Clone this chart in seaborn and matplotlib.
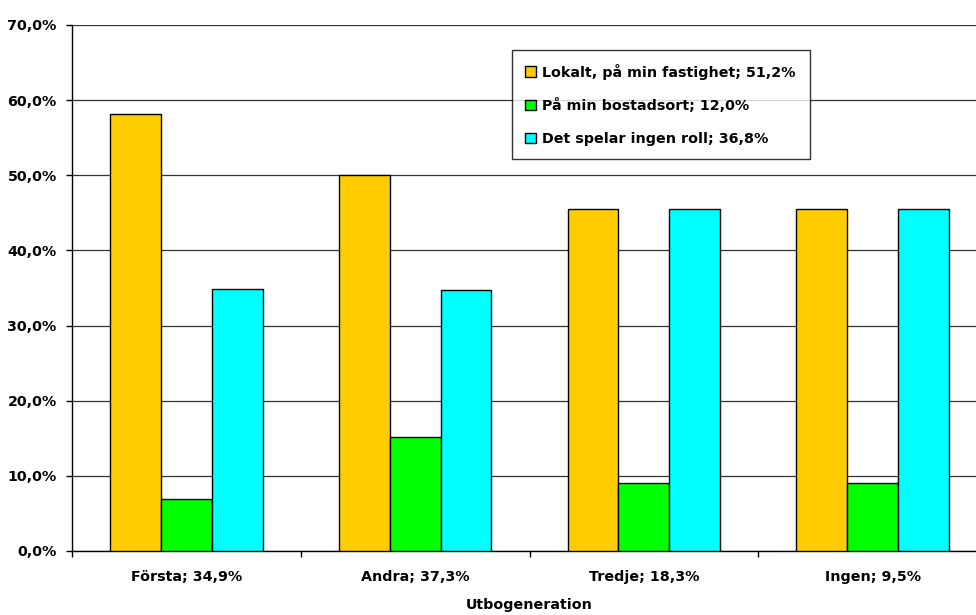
import pandas as pd
import seaborn as sns
import matplotlib.pyplot as plt
from matplotlib.ticker import FuncFormatter, FixedLocator

# data (percent)
generations = ['Första; 34,9%', 'Andra; 37,3%', 'Tredje; 18,3%', 'Ingen; 9,5%']
answers = ['Lokalt, på min fastighet; 51,2%', 'På min bostadsort; 12,0%', 'Det spelar ingen roll; 36,8%']
lokalt = [58.2, 50.0, 45.5, 45.5]
bostadsort = [6.9, 15.2, 9.1, 9.1]
ingen_roll = [34.9, 34.7, 45.5, 45.5]
colors = ['#FFCC00', '#00FF00', '#00FFFF']

rows = []
for ans, vals in zip(answers, [lokalt, bostadsort, ingen_roll]):
    for g, v in zip(generations, vals):
        rows.append({'Utbogeneration': g, 'svar': ans, 'andel': v})
df = pd.DataFrame(rows)

sns.set_style('white')
plt.rcParams['font.family'] = ['DejaVu Sans']
plt.rcParams['font.weight'] = 'bold'
plt.rcParams['text.color'] = 'black'
plt.rcParams['xtick.color'] = 'black'
plt.rcParams['ytick.color'] = 'black'
plt.rcParams['axes.labelcolor'] = 'black'

fig = plt.figure(figsize=(9.76, 6.15), dpi=100)
ax = fig.add_axes([72 / 976, 1 - 551 / 615, 915 / 976, 526 / 615])

sns.barplot(data=df, x='Utbogeneration', y='andel', hue='svar', hue_order=answers,
            palette=colors, width=0.667, edgecolor='black', linewidth=1,
            saturation=1, ax=ax, legend=False, zorder=3)

ax.set_xlim(-0.5, 3.5)
ax.set_ylim(0, 70)
ax.set_yticks(range(0, 71, 10))
ax.yaxis.set_major_formatter(FuncFormatter(lambda v, p: f'{v:.1f}%'.replace('.', ',')))
ax.grid(axis='y', color='#333333', linewidth=0.9, zorder=0)
ax.set_axisbelow(True)

for s in ['top', 'right']:
    ax.spines[s].set_visible(False)
for s in ['left', 'bottom']:
    ax.spines[s].set_color('black')
    ax.spines[s].set_linewidth(1)

ax.tick_params(axis='y', direction='out', length=4, width=1, color='black',
               pad=7, labelsize=10.3, left=True)
ax.tick_params(axis='x', which='major', length=0, pad=14, labelsize=10.3)
ax.xaxis.set_minor_locator(FixedLocator([-0.5, 0.5, 1.5, 2.5, 3.5]))
ax.tick_params(axis='x', which='minor', direction='out', length=4, width=1,
               color='black', bottom=True)
for lab in ax.get_xticklabels() + ax.get_yticklabels():
    lab.set_fontweight('bold')

ax.set_xlabel('Utbogeneration', fontsize=10.3, fontweight='bold', labelpad=10)
ax.set_ylabel('')

handles = [plt.Rectangle((0, 0), 1, 1, facecolor=c, edgecolor='black', linewidth=1) for c in colors]
leg = ax.legend(handles, answers, loc='upper left', bbox_to_anchor=(0.4805, 0.9525),
                borderaxespad=0, frameon=True, fancybox=False, shadow=False,
                prop={'size': 10.3, 'weight': 'bold'}, handlelength=0.75, handleheight=0.75,
                handletextpad=0.45, labelspacing=1.3, borderpad=0.95)
leg.get_frame().set_edgecolor('black')
leg.get_frame().set_linewidth(1)
leg.get_frame().set_facecolor('white')
leg.set_zorder(5)

fig.savefig('out.png', dpi=100)
